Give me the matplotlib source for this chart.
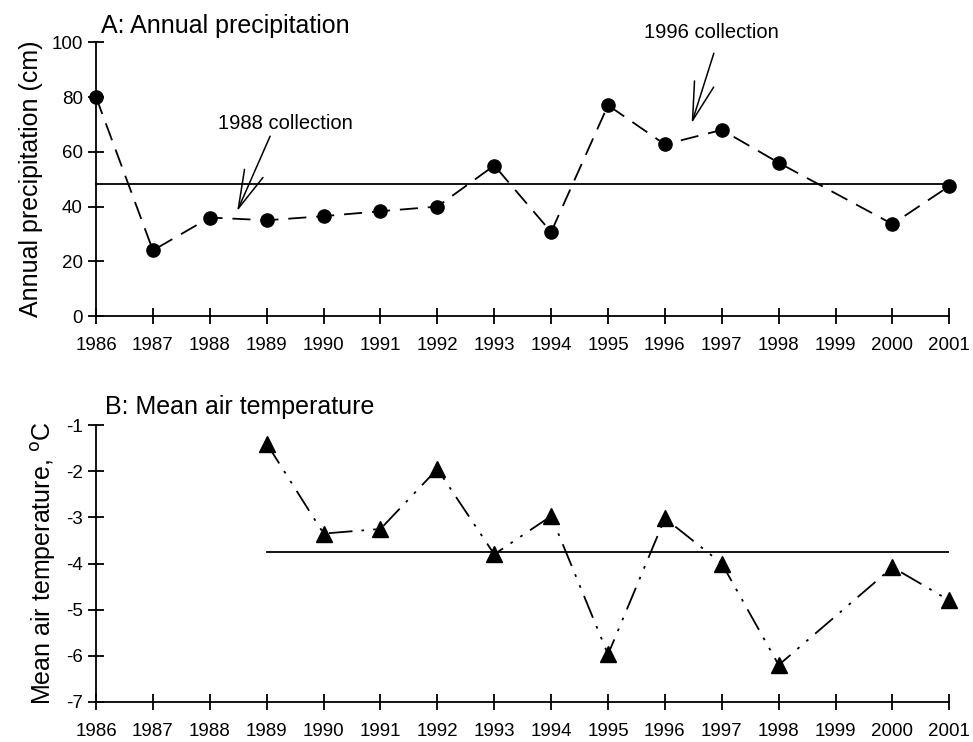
import matplotlib
matplotlib.use("Agg")
import matplotlib.pyplot as plt

plt.rcParams['font.family'] = ['Liberation Sans', 'DejaVu Sans']
plt.rcParams['axes.unicode_minus'] = False

# Données
precip_years = [1986, 1987, 1988, 1989, 1990, 1991, 1992, 1993, 1994, 1995, 1996, 1997, 1998, 2000, 2001]
precip_cm = [80, 24, 36, 35, 36.5, 38.3, 40, 55, 30.7, 77, 62.7, 68, 56, 33.6, 47.5]
precip_mean = 48.4

temp_years = [1989, 1990, 1991, 1992, 1993, 1994, 1995, 1996, 1997, 1998, 2000, 2001]
temp_c = [-1.4, -3.35, -3.25, -1.95, -3.8, -2.97, -5.97, -3.02, -4.0, -6.2, -4.08, -4.8]
temp_mean = -3.75

year_ticks = list(range(1986, 2002))

fig = plt.figure(figsize=(9.73, 7.42), dpi=100)
ax1 = fig.add_axes([0.0987, 0.574, 0.877, 0.369])
ax2 = fig.add_axes([0.0987, 0.054, 0.877, 0.373])


def style_axes(ax):
    for s in ['top', 'right']:
        ax.spines[s].set_visible(False)
    for s in ['left', 'bottom']:
        ax.spines[s].set_linewidth(1.3)
    ax.set_xlim(1986, 2001)
    ax.set_xticks(year_ticks)
    ax.tick_params(direction='inout', length=11, width=1.3, labelsize=13.5)
    ax.tick_params(axis='x', pad=9.5)
    ax.tick_params(axis='y', pad=4)


# A : précipitations
style_axes(ax1)
ax1.set_ylim(0, 100)
ax1.set_yticks(range(0, 101, 20))
ax1.plot([1986, 2001], [precip_mean, precip_mean], color='black', lw=1.3, clip_on=False)
ax1.plot(precip_years, precip_cm, color='black', lw=1.3, dashes=(10, 5.5),
         marker='o', markersize=9.5, clip_on=False)
ax1.set_ylabel('Annual precipitation (cm)', fontsize=18, labelpad=6)
ax1.text(1986.08, 106, 'A: Annual precipitation', fontsize=18, va='center', ha='left')

arrow = dict(arrowstyle='->,head_length=1.9,head_width=0.5', lw=1.1, color='black',
             shrinkA=0, shrinkB=0, mutation_scale=14.5)
ax1.text(1989.32, 70.4, '1988 collection', fontsize=14.5, ha='center', va='center')
ax1.annotate('', xy=(1988.48, 38.3), xytext=(1989.06, 65.7), arrowprops=arrow)
ax1.text(1996.82, 103.6, '1996 collection', fontsize=14.5, ha='center', va='center')
ax1.annotate('', xy=(1996.47, 70.4), xytext=(1996.86, 96), arrowprops=arrow,
             annotation_clip=False)

# B : température
style_axes(ax2)
ax2.set_ylim(-7, -1)
ax2.set_yticks(range(-7, 0))
ax2.plot([1989, 2001], [temp_mean, temp_mean], color='black', lw=1.3)
ax2.plot(temp_years, temp_c, color='black', lw=1.3, dashes=(13, 5, 1.5, 5, 1.5, 5),
         marker='^', markersize=11, clip_on=False)
ax2.set_ylabel('Mean air temperature, $^{\\rm o}$C', fontsize=18, labelpad=6)
ax2.text(1986.15, -0.6, 'B: Mean air temperature', fontsize=18, va='center', ha='left')

plt.savefig('out.png', dpi=100)
